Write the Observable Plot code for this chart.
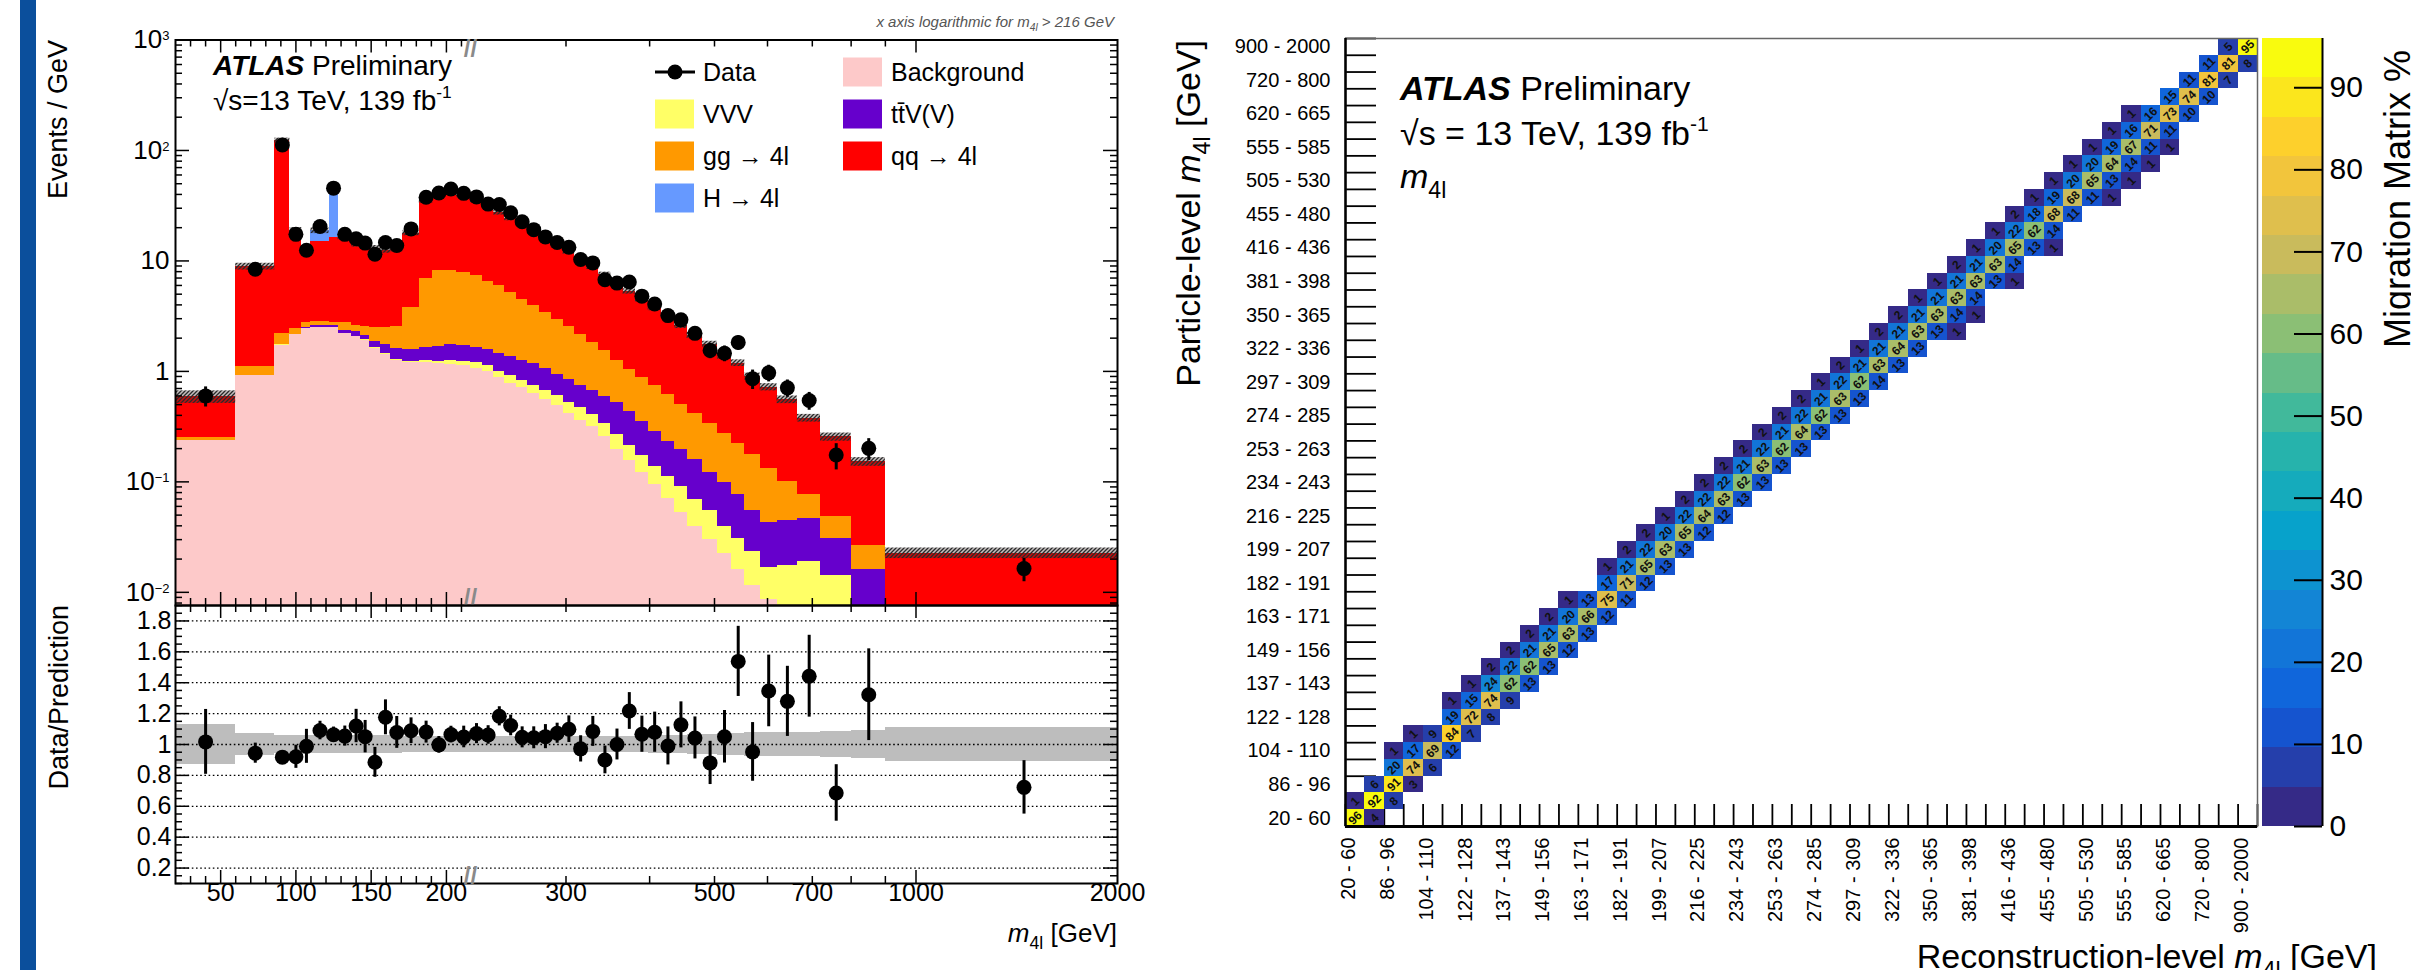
<!DOCTYPE html>
<html><head><meta charset="utf-8">
<script src="https://cdn.jsdelivr.net/npm/d3@7"></script>
<script src="https://cdn.jsdelivr.net/npm/@observablehq/plot@0.6"></script>
<style>
html,body{margin:0;padding:0;background:#fff;}
#chart{position:relative;width:2411px;height:970px;overflow:hidden;background:#fff;}
#chart > svg{position:absolute;left:0;top:0;}
#bar{position:absolute;left:20px;top:0;width:16px;height:970px;background:#0b4f9c;}
</style></head><body><div id="chart"><div id="bar"></div></div>
<script>
// ================= DATA =================
// m4l bin edges [GeV]
const massEdges = [20,60,86,96,104,110,122,128,137,143,149,156,163,171,182,191,199,207,216,225,234,243,253,263,274,285,297,309,322,336,350,365,381,398,416,436,455,480,505,530,555,585,620,665,720,800,900,2000];
// Events / GeV per process (stack order bottom -> top)
const background = [0.237,0.91,1.72,2.14,2.45,2.5,2.5,2.19,2.07,1.91,1.62,1.43,1.26,1.21,1.21,1.18,1.16,1.12,1.07,0.99,0.873,0.784,0.71,0.628,0.555,0.49,0.416,0.361,0.32,0.26,0.198,0.155,0.121,0.0944,0.0707,0.053,0.0398,0.0298,0.0223,0.016,0.0115,0.0087,0.0075,0.005,0.004,0.002,0.0005];
const vvv = [0.001,0.005,0.02,0.01,0.02,0.02,0.02,0.02,0.02,0.02,0.02,0.02,0.02,0.03,0.05,0.06,0.1,0.12,0.14,0.13,0.117,0.126,0.114,0.112,0.11,0.112,0.103,0.109,0.085,0.08,0.072,0.06,0.054,0.0426,0.0403,0.0376,0.0298,0.0254,0.0175,0.015,0.0117,0.008,0.01,0.0139,0.0102,0.002,0.0005];
const ttvv = [0.001,0.005,0.02,0.01,0.03,0.06,0.06,0.14,0.2,0.18,0.24,0.31,0.34,0.34,0.4,0.45,0.5,0.48,0.44,0.46,0.46,0.46,0.436,0.44,0.405,0.344,0.318,0.27,0.265,0.25,0.249,0.218,0.178,0.15,0.122,0.107,0.0914,0.0658,0.0586,0.0458,0.032,0.0265,0.0275,0.028,0.0168,0.012,0.001];
const ggZZ = [0.014,0.18,0.43,0.28,0.27,0.25,0.22,0.42,0.32,0.44,0.63,0.75,0.93,2.17,5.29,6.51,6.44,6.15,5.66,4.99,4.5,3.76,3.2,2.76,2.33,1.984,1.713,1.42,1.14,0.94,0.731,0.597,0.52,0.453,0.379,0.304,0.255,0.217,0.177,0.147,0.12,0.088,0.055,0.03,0.0178,0.0103,0.001];
const qqZZ = [0.337,7.8,119.8,16.46,9.83,12.17,13.5,13.43,11.59,11.25,10.49,9.99,10.25,14.15,27.95,33.1,33.9,31.13,28.19,24.23,21.45,19.17,17.14,14.46,12.3,10.77,9.55,8.44,7.04,5.97,5.05,4.27,3.627,3.03,2.618,2.098,1.704,1.422,1.115,0.966,0.725,0.589,0.455,0.301,0.2062,0.1257,0.0197];
const higgs = [0,0,0,0,0.05,3.8,26.6,0.3,0,0,0,0,0,0,0,0,0,0,0,0,0,0,0,0,0,0,0,0,0,0,0,0,0,0,0,0,0,0,0,0,0,0,0,0,0,0,0];
const dataVals = [0.60,8.4,112,17.4,12.5,20.5,45.6,17.4,15.9,14.5,11.5,14.7,13.8,19.5,37.7,41.2,44.8,40.9,38.0,32.7,32.4,27.3,22.6,19.2,16.5,14.7,13.3,10.3,9.6,6.75,6.3,6.45,4.8,4.07,3.2,2.93,2.21,1.55,1.46,1.83,0.857,0.97,0.71,0.545,0.175,0.201,0.0164];
// statistical error on Data/Prediction
const ratioErr = [0.21,0.065,0.03,0.075,0.11,0.06,0.05,0.065,0.108,0.105,0.097,0.113,0.103,0.083,0.071,0.054,0.054,0.07,0.065,0.06,0.062,0.067,0.068,0.071,0.078,0.065,0.086,0.085,0.097,0.09,0.1,0.119,0.117,0.13,0.123,0.149,0.136,0.14,0.17,0.227,0.19,0.232,0.227,0.265,0.183,0.297,0.173];
// relative prediction uncertainty
const sysUnc = [0.13,0.07,0.06,0.06,0.06,0.06,0.06,0.06,0.06,0.06,0.06,0.06,0.06,0.055,0.05,0.05,0.05,0.05,0.05,0.05,0.05,0.05,0.05,0.05,0.05,0.05,0.05,0.05,0.055,0.055,0.055,0.055,0.055,0.06,0.06,0.06,0.065,0.065,0.07,0.07,0.075,0.075,0.08,0.08,0.085,0.09,0.11];
const processNames = ["Background","VVV","tt\u0304V(V)","gg \u2192 4l","qq \u2192 4l","H \u2192 4l"];
// axis ticks (left chart)
const topTickValues = [1000,100,10,1,0.1,0.01];
const topTickLabels = ["10^{3}","10^{2}","10","1","10^{\u22121}","10^{\u22122}"];
const ratioTickValues = [1.8,1.6,1.4,1.2,1,0.8,0.6,0.4,0.2];
const ratioTickLabels = ["1.8","1.6","1.4","1.2","1","0.8","0.6","0.4","0.2"];
const massTickValues = [50,100,150,200,300,500,700,1000,2000];
const massTickLabels = ["50","100","150","200","300","500","700","1000","2000"];
// migration matrix (rows = particle-level bin, first reco bin + values in %)
const matrixBinLabels = ["20 - 60","60 - 86","86 - 96","96 - 104","104 - 110","110 - 122","122 - 128","128 - 137","137 - 143","143 - 149","149 - 156","156 - 163","163 - 171","171 - 182","182 - 191","191 - 199","199 - 207","207 - 216","216 - 225","225 - 234","234 - 243","243 - 253","253 - 263","263 - 274","274 - 285","285 - 297","297 - 309","309 - 322","322 - 336","336 - 350","350 - 365","365 - 381","381 - 398","398 - 416","416 - 436","436 - 455","455 - 480","480 - 505","505 - 530","530 - 555","555 - 585","585 - 620","620 - 665","665 - 720","720 - 800","800 - 900","900 - 2000"];
const migrationStart = [0,0,1,2,2,3,5,5,6,7,8,9,10,11,13,13,14,15,16,17,18,19,20,21,22,23,24,25,26,27,28,29,30,31,32,33,34,35,36,37,38,39,40,42,43,44,45];
const migrationValues = [
 [96,4],[1,92,8],[6,91,3],[20,74,6],[1,17,69,12],[1,9,84,7],[19,72,8],[1,15,74,9],[1,24,62,13],[2,22,62,13],
 [2,21,65,12],[2,21,63,13],[2,20,66,12],[1,13,75,11],[17,71,12],[1,21,65,13],[2,22,63,13],[2,20,65,12],[1,22,64,12],[2,22,63,13],
 [2,22,62,13],[2,21,63,13],[2,22,62,13],[2,21,64,13],[2,22,62,13],[2,21,63,13],[1,22,62,14],[2,21,63,13],[1,21,64,13],[2,21,63,13,1],
 [2,21,63,14,1],[1,21,63,14],[1,21,63,13,1],[2,21,63,14],[1,20,65,13,1],[1,22,62,14],[2,18,68,11],[1,19,68,11,1],[1,20,65,13,1],[1,20,64,14,1],
 [1,19,67,11,1],[1,16,71,11],[1,16,73,10],[15,74,10],[11,81,7],[11,81,8],[5,95]
];
const zTickValues = [0,10,20,30,40,50,60,70,80,90];

// ================= DRAWING =================
const FONT = "'Liberation Sans', Arial, Helvetica, sans-serif";
const NS = "http://www.w3.org/2000/svg";
const W = 2411, H = 970;
const chart = document.getElementById("chart");
const baseStyle = {background: "transparent", overflow: "visible", fontFamily: FONT, fontSize: "20px", color: "#000"};

function richify(svg) {
  svg.querySelectorAll("text").forEach(t => {
    const s = t.textContent;
    if (!/[\^_]\{/.test(s)) return;
    const fs = parseFloat(t.getAttribute("font-size") || getComputedStyle(t).fontSize) || 20;
    const target = t.querySelector("tspan") || t;
    while (target.firstChild) target.removeChild(target.firstChild);
    const re = /([\^_])\{([^}]*)\}/g; let last = 0, m;
    const add = (str, kind) => {
      const sp = document.createElementNS(NS, "tspan"); sp.textContent = str;
      if (kind === "^") { sp.setAttribute("font-size", (fs*0.65)+"px"); sp.setAttribute("baseline-shift", (fs*0.42)+"px"); }
      if (kind === "_") { sp.setAttribute("font-size", (fs*0.68)+"px"); sp.setAttribute("baseline-shift", (-fs*0.28)+"px"); }
      target.appendChild(sp);
    };
    while ((m = re.exec(s))) { if (m.index > last) add(s.slice(last, m.index)); add(m[2], m[1]); last = re.lastIndex; }
    if (last < s.length) add(s.slice(last));
  });
}

// ---- left chart geometry ----
const L0 = 175, R0 = 1117, T0 = 39.5, B0 = 605, B1 = 883;
const LIN = (470 - L0) / (R0 - L0);
const U = m => m <= 216 ? (m - 20) / 196 * LIN : LIN + Math.log(m / 216) / Math.log(2000 / 216) * (1 - LIN);
const layerColors = ["#fdc9c9", "#ffff66", "#6600cc", "#ff9900", "#ff0000", "#6699ff"];
const nb = massEdges.length - 1;
const bins = d3.range(nb).map(i => {
  const comps = [background[i], vvv[i], ttvv[i], ggZZ[i], qqZZ[i], higgs[i]];
  const total = d3.sum(comps);
  return {i, lo: massEdges[i], hi: massEdges[i+1], comps, total, data: dataVals[i], ratio: dataVals[i] / total, rerr: ratioErr[i], unc: sysUnc[i]};
});
const stackRects = [];
bins.forEach(b => { let acc = 0; b.comps.forEach((v, j) => { if (v > 0) stackRects.push({x1: U(b.lo), x2: U(b.hi), y1: j === 0 ? 1e-5 : acc, y2: acc + v, fill: layerColors[j]}); acc += v; }); });
const xc = b => U((b.lo + b.hi) / 2);
const xMinor = [30,40,60,70,80,90,110,120,130,140,160,170,180,190,210,300,400,500,600,700,800,900];
const xMajor = [50,100,150,200,1000];
const FW = R0 - L0;

function xTicks(fh, top, bottom) {
  const m = [];
  if (bottom) { m.push(Plot.tickX(xMinor, {x: U, insetTop: fh - 7, strokeWidth: 1.5})); m.push(Plot.tickX(xMajor, {x: U, insetTop: fh - 13, strokeWidth: 1.5})); }
  if (top) { m.push(Plot.tickX(xMinor, {x: U, insetBottom: fh - 7, strokeWidth: 1.5})); m.push(Plot.tickX(xMajor, {x: U, insetBottom: fh - 13, strokeWidth: 1.5})); }
  return m;
}
function breakMark(anchor) {
  return Plot.text([216], {x: U, frameAnchor: anchor, text: () => "//", fontSize: 24, fill: "#8a8a8a", fontWeight: "bold"});
}

// top panel
const yMinor = [];
[0.001, 0.01, 0.1, 1, 10, 100].forEach(d => { for (let k = 2; k <= 9; k++) { const v = k * d; if (v > 0.0076 && v < 1000) yMinor.push(v); } });
const fhTop = B0 - T0;
const topPlot = Plot.plot({
  width: W, height: H, marginLeft: L0, marginRight: W - R0, marginTop: T0, marginBottom: H - B0,
  style: baseStyle,
  x: {domain: [0, 1], axis: null},
  y: {type: "log", domain: [0.0076, 1000], axis: null},
  color: {type: "identity"},
  marks: [
    Plot.rect(stackRects, {x1: "x1", x2: "x2", y1: "y1", y2: "y2", fill: "fill", clip: true, shapeRendering: "crispEdges"}),
    Plot.rect(bins, {x1: b => U(b.lo), x2: b => U(b.hi), y1: b => b.total * (1 - b.unc), y2: b => b.total * (1 + b.unc), fill: "url(#hatchTop)", clip: true}),
    Plot.ruleX(bins, {x: xc, y1: b => b.data * (1 - b.rerr / b.ratio), y2: b => b.data * (1 + b.rerr / b.ratio), stroke: "#000", strokeWidth: 3, clip: true}),
    Plot.dot(bins, {x: xc, y: "data", r: 7.5, fill: "#000", stroke: "none", clip: true}),
    Plot.tickY(topTickValues, {y: d => d, insetRight: FW - 14, strokeWidth: 1.5}),
    Plot.tickY(yMinor, {y: d => d, insetRight: FW - 7, strokeWidth: 1.5}),
    Plot.tickY(topTickValues, {y: d => d, insetLeft: FW - 14, strokeWidth: 1.5}),
    Plot.tickY(yMinor, {y: d => d, insetLeft: FW - 7, strokeWidth: 1.5}),
    ...xTicks(fhTop, true, true),
    Plot.frame({stroke: "#000", strokeWidth: 2}),
    Plot.text(topTickValues, {y: d => d, text: (d, i) => topTickLabels[i], frameAnchor: "left", textAnchor: "end", dx: -6, fontSize: 26}),
    breakMark("top"), breakMark("bottom")
  ]
});
topPlot.insertAdjacentHTML("afterbegin", '<defs><pattern id="hatchTop" patternUnits="userSpaceOnUse" width="4" height="4"><rect width="4" height="4" fill="rgba(60,40,40,0.3)"/><path d="M-1,1 l2,-2 M0,4 l4,-4 M3,5 l2,-2" stroke="#2a2a2a" stroke-width="1.3"/></pattern></defs>');
richify(topPlot);
chart.appendChild(topPlot);

// ratio panel
const rMinor = d3.range(0.1, 1.9001, 0.05).map(v => +v.toFixed(2)).filter(v => Math.abs(v * 5 - Math.round(v * 5)) > 1e-6);
const ratioGrid = ratioTickValues;
const fhR = B1 - B0;
const ratioPlot = Plot.plot({
  width: W, height: H, marginLeft: L0, marginRight: W - R0, marginTop: B0, marginBottom: H - B1,
  style: baseStyle,
  x: {domain: [0, 1], axis: null},
  y: {domain: [0.1, 1.9], axis: null},
  marks: [
    Plot.rect(bins, {x1: b => U(b.lo), x2: b => U(b.hi), y1: b => 1 - b.unc, y2: b => 1 + b.unc, fill: "#bdbdbd", shapeRendering: "crispEdges"}),
    Plot.ruleY(ratioGrid, {y: d => d, stroke: "#000", strokeWidth: 1.3, strokeDasharray: "1.6,2.6"}),
    Plot.ruleX(bins, {x: xc, y1: b => b.ratio - b.rerr, y2: b => b.ratio + b.rerr, stroke: "#000", strokeWidth: 3, clip: true}),
    Plot.dot(bins, {x: xc, y: "ratio", r: 7.5, fill: "#000", stroke: "none", clip: true}),
    Plot.tickY(ratioTickValues, {y: d => d, insetRight: FW - 14, strokeWidth: 1.5}),
    Plot.tickY(rMinor, {y: d => d, insetRight: FW - 7, strokeWidth: 1.5}),
    Plot.tickY(ratioTickValues, {y: d => d, insetLeft: FW - 14, strokeWidth: 1.5}),
    Plot.tickY(rMinor, {y: d => d, insetLeft: FW - 7, strokeWidth: 1.5}),
    ...xTicks(fhR, true, true),
    Plot.frame({stroke: "#000", strokeWidth: 2}),
    Plot.text(ratioTickValues, {y: d => d, text: (d, i) => ratioTickLabels[i], frameAnchor: "left", textAnchor: "end", dx: -4, fontSize: 25}),
    Plot.text(massTickValues, {x: U, text: (d, i) => massTickLabels[i], frameAnchor: "bottom", dy: 17, fontSize: 25}),
    breakMark("bottom")
  ]
});
chart.appendChild(ratioPlot);

// ---- migration matrix ----
const ML = 1345, MR = 2257, MT = 38, MB = 826;
const zMax = 96;
const birdStops = ["#352a87","#0f5cdd","#1481d6","#06a4ca","#2eb7a4","#87bf77","#d1bb59","#fec832","#f9fb0e"];
const bird = d3.piecewise(d3.interpolateRgb, birdStops);
const bandColors = d3.range(20).map(k => bird(k / 19));
const thresholds = d3.range(1, 20).map(k => k * zMax / 20);
const colorScale = {type: "threshold", domain: thresholds, range: bandColors};
const cells = [];
migrationValues.forEach((vals, r) => vals.forEach((v, k) => cells.push({r, c: migrationStart[r] + k, v})));
const nM = matrixBinLabels.length;
const evenBins = d3.range(0, nM, 2);
const boundaries = d3.range(0, nM + 1);
const matrixPlot = Plot.plot({
  width: W, height: H, marginLeft: ML, marginRight: W - MR, marginTop: MT, marginBottom: H - MB,
  style: baseStyle,
  x: {domain: [0, nM], axis: null},
  y: {domain: [0, nM], axis: null},
  color: colorScale,
  marks: [
    Plot.tickX(boundaries, {x: d => d, insetTop: (MB - MT) - 22, strokeWidth: 1.8}),
    Plot.tickY(boundaries, {y: d => d, insetRight: (MR - ML) - 31, strokeWidth: 1.8}),
    Plot.rect(cells, {x1: d => d.c, x2: d => d.c + 1, y1: d => d.r, y2: d => d.r + 1, fill: "v", shapeRendering: "crispEdges"}),
    Plot.text(cells, {x: d => d.c + 0.5, y: d => d.r + 0.5, text: d => String(d.v), rotate: -45, fontSize: 12, fontWeight: "bold", fill: "#111"}),
    Plot.frame({stroke: "#666", strokeWidth: 1.5}),
    Plot.ruleX([0], {stroke: "#000", strokeWidth: 2.5}),
    Plot.ruleY([0], {stroke: "#000", strokeWidth: 3}),
    Plot.text(evenBins, {y: d => d + 0.5, text: d => matrixBinLabels[d], frameAnchor: "left", textAnchor: "end", dx: -15, fontSize: 20}),
    Plot.text(evenBins, {x: d => d + 0.5, text: d => matrixBinLabels[d], frameAnchor: "bottom", textAnchor: "end", rotate: -90, dy: 11, fontSize: 20})
  ]
});
chart.appendChild(matrixPlot);

// colour bar
const CL = 2262, CR = 2322;
const zBands = d3.range(20).map(k => ({lo: k * zMax / 20, hi: (k + 1) * zMax / 20}));
const cbar = Plot.plot({
  width: W, height: H, marginLeft: CL, marginRight: W - CR, marginTop: MT, marginBottom: H - MB,
  style: baseStyle,
  x: {domain: [0, 1], axis: null},
  y: {domain: [0, zMax], axis: null},
  color: colorScale,
  marks: [
    Plot.rect(zBands, {x1: 0, x2: 1, y1: "lo", y2: "hi", fill: d => (d.lo + d.hi) / 2, shapeRendering: "crispEdges"}),
    Plot.tickY(zTickValues, {y: d => d, insetLeft: (CR - CL) - 28, strokeWidth: 2}),
    Plot.ruleX([1], {stroke: "#000", strokeWidth: 2}),
    Plot.text(zTickValues, {y: d => d, text: d => String(d), frameAnchor: "right", textAnchor: "start", dx: 7, fontSize: 30})
  ]
});
chart.appendChild(cbar);

// ---- annotations & legends ----
const ann = document.createElementNS(NS, "svg");
ann.setAttribute("width", W); ann.setAttribute("height", H);
ann.setAttribute("font-family", FONT);
chart.appendChild(ann);
function txt(x, y, parts, size, extra = {}) {
  const t = document.createElementNS(NS, "text");
  t.setAttribute("x", x); t.setAttribute("y", y); t.setAttribute("font-size", size);
  Object.entries(extra).forEach(([k, v]) => t.setAttribute(k, v));
  parts.forEach(p => {
    if (typeof p === "string") p = {t: p};
    const s = document.createElementNS(NS, "tspan"); s.textContent = p.t;
    if (p.b) s.setAttribute("font-weight", "bold");
    if (p.i) s.setAttribute("font-style", "italic");
    if (p.sup) { s.setAttribute("font-size", size * 0.62); s.setAttribute("baseline-shift", (size * 0.42) + "px"); }
    if (p.sub) { s.setAttribute("font-size", size * 0.68); s.setAttribute("baseline-shift", (-size * 0.28) + "px"); }
    t.appendChild(s);
  });
  ann.appendChild(t); return t;
}
function shape(tag, attrs) { const e = document.createElementNS(NS, tag); Object.entries(attrs).forEach(([k, v]) => e.setAttribute(k, v)); ann.appendChild(e); return e; }

// left chart texts
txt(1114, 27, [{t: "x axis logarithmic for m", i: 1}, {t: "4l", sub: 1, i: 1}, {t: "  > 216 GeV", i: 1}], 15, {"text-anchor": "end", fill: "#555"});
txt(213, 75, [{t: "ATLAS", b: 1, i: 1}, " Preliminary"], 28);
txt(213, 110, ["\u221As=13 TeV, 139 fb", {t: "-1", sup: 1}], 28);
txt(67, 40, ["Events / GeV"], 27, {"text-anchor": "end", transform: "rotate(-90 67 40)"});
txt(68, 605, ["Data/Prediction"], 27, {"text-anchor": "end", transform: "rotate(-90 68 605)"});
txt(1117, 942, [{t: "m", i: 1}, {t: "4l", sub: 1}, " [GeV]"], 26, {"text-anchor": "end"});
// legend
const legRows = [72, 114, 156, 198];
const legCols = [655, 843];
const legEntries = [
  {col: 0, row: 0, name: "Data", data: true},
  {col: 1, row: 0, name: processNames[0], color: layerColors[0]},
  {col: 0, row: 1, name: processNames[1], color: layerColors[1]},
  {col: 1, row: 1, name: processNames[2], color: layerColors[2]},
  {col: 0, row: 2, name: processNames[3], color: layerColors[3]},
  {col: 1, row: 2, name: processNames[4], color: layerColors[4]},
  {col: 0, row: 3, name: processNames[5], color: layerColors[5]}
];
legEntries.forEach(e => {
  const x = legCols[e.col], y = legRows[e.row];
  if (e.data) {
    shape("line", {x1: x, x2: x + 40, y1: y, y2: y, stroke: "#000", "stroke-width": 3});
    shape("circle", {cx: x + 20, cy: y, r: 7.5, fill: "#000"});
  } else {
    shape("rect", {x: x, y: y - 14.5, width: 39, height: 29, fill: e.color});
  }
  txt(x + 48, y + 9, [e.name], 25);
});

// right chart texts
txt(1400, 100, [{t: "ATLAS", b: 1, i: 1}, " Preliminary"], 34);
txt(1400, 145, ["\u221As = 13 TeV, 139 fb", {t: "-1", sup: 1}], 34);
txt(1400, 188, [{t: "m", i: 1}, {t: "4l", sub: 1}], 34);
txt(1200, 40, ["Particle-level ", {t: "m", i: 1}, {t: "4l", sub: 1}, " [GeV]"], 34, {"text-anchor": "end", transform: "rotate(-90 1200 40)"});
txt(2377, 968, ["Reconstruction-level ", {t: "m", i: 1}, {t: "4l", sub: 1}, " [GeV]"], 34, {"text-anchor": "end"});
txt(2410, 50, ["Migration Matrix %"], 36, {"text-anchor": "end", transform: "rotate(-90 2410 50)"});
</script></body></html>
